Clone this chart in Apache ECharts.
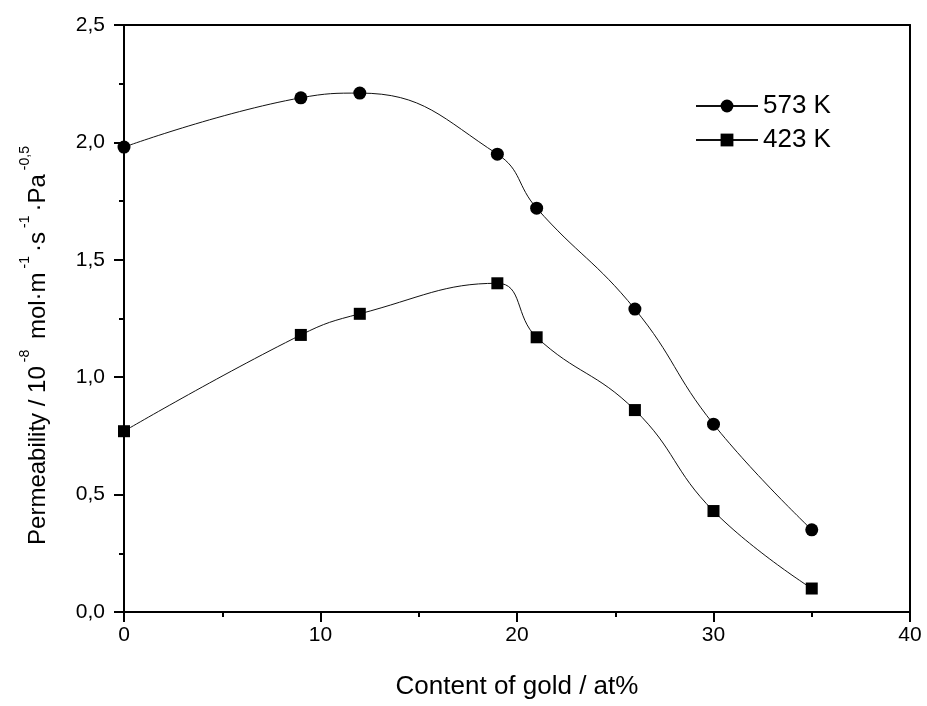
<!DOCTYPE html>
<html>
<head>
<meta charset="utf-8">
<script src="https://cdn.jsdelivr.net/npm/echarts@6/dist/echarts.min.js"></script>
<style>html,body{margin:0;padding:0;background:#fff}#c{width:927px;height:706px}</style>
</head>
<body>
<div id="c"></div>
<script>
const goldContent = [0, 9, 12, 19, 21, 26, 30, 35];
const perm573 = [1.98, 2.19, 2.21, 1.95, 1.72, 1.29, 0.80, 0.35];
const perm423 = [0.77, 1.18, 1.27, 1.40, 1.17, 0.86, 0.43, 0.10];
const seriesNames = ['573 K', '423 K'];
const xTicks = [0, 10, 20, 30, 40];
const yTicks = [0, 0.5, 1.0, 1.5, 2.0, 2.5];

const FONT = '"Liberation Sans", Arial, sans-serif';
const pair = (xs, ys) => xs.map((x, i) => [x, ys[i]]);
const fmtComma = v => v.toFixed(1).replace('.', ',');

const chart = echarts.init(document.getElementById('c'));
chart.setOption({
  animation: false,
  backgroundColor: '#fff',
  grid: { left: 124, right: 17, top: 25, bottom: 94 },
  legend: {
    orient: 'vertical',
    left: 690, top: 88,
    itemWidth: 62, itemHeight: 16, itemGap: 8,
    textStyle: { fontFamily: FONT, fontSize: 26, color: '#000' },
    data: seriesNames
  },
  xAxis: [{
    type: 'value', min: xTicks[0], max: xTicks[xTicks.length - 1], interval: 10,
    name: 'Content of gold / at%', nameLocation: 'middle', nameGap: 62,
    nameTextStyle: { fontFamily: FONT, fontSize: 26, color: '#000' },
    axisLine: { show: true, onZero: false, lineStyle: { color: '#000', width: 2 } },
    axisTick: { show: true, inside: false, length: 10, lineStyle: { color: '#000', width: 2 } },
    minorTick: { show: true, splitNumber: 2, length: 5, lineStyle: { color: '#000', width: 2 } },
    axisLabel: { fontFamily: FONT, fontSize: 21, color: '#000', margin: 13 },
    splitLine: { show: false }
  }, {
    type: 'value', position: 'top', min: 0, max: 40,
    axisLine: { show: true, onZero: false, lineStyle: { color: '#000', width: 2 } },
    axisTick: { show: false }, axisLabel: { show: false }, splitLine: { show: false }
  }],
  yAxis: [{
    type: 'value', min: yTicks[0], max: yTicks[yTicks.length - 1], interval: 0.5,
    name: '{n|Permeability / 10}{s|-8}{n| mol·m}{s|-1}{n|·s}{s|-1}{n|·Pa}{s|-0,5}',
    nameLocation: 'middle', nameGap: 74, nameRotate: 90,
    nameTextStyle: {
      fontFamily: FONT, color: '#000', padding: [0, 50, 0, 0],
      rich: {
        n: { fontFamily: FONT, fontSize: 24, color: '#000', lineHeight: 32, verticalAlign: 'bottom' },
        s: { fontFamily: FONT, fontSize: 14, color: '#000', lineHeight: 32, verticalAlign: 'top', padding: [0, 4, 0, 4] }
      }
    },
    axisLine: { show: true, onZero: false, lineStyle: { color: '#000', width: 2 } },
    axisTick: { show: true, inside: false, length: 10, lineStyle: { color: '#000', width: 2 } },
    minorTick: { show: true, splitNumber: 2, length: 5, lineStyle: { color: '#000', width: 2 } },
    axisLabel: { fontFamily: FONT, fontSize: 21, color: '#000', margin: 19, formatter: fmtComma },
    splitLine: { show: false }
  }, {
    type: 'value', position: 'right', min: 0, max: 2.5,
    axisLine: { show: true, onZero: false, lineStyle: { color: '#000', width: 2 } },
    axisTick: { show: false }, axisLabel: { show: false }, splitLine: { show: false }
  }],
  series: [{
    name: seriesNames[0], type: 'line', data: pair(goldContent, perm573),
    smooth: 0.45, symbol: 'circle', symbolSize: 13,
    lineStyle: { color: '#111', width: 1 },
    itemStyle: { color: '#000' }
  }, {
    name: seriesNames[1], type: 'line', data: pair(goldContent, perm423),
    smooth: 0.45, symbol: 'rect', symbolSize: 12,
    lineStyle: { color: '#111', width: 1 },
    itemStyle: { color: '#000' }
  }]
});
</script>
</body>
</html>
